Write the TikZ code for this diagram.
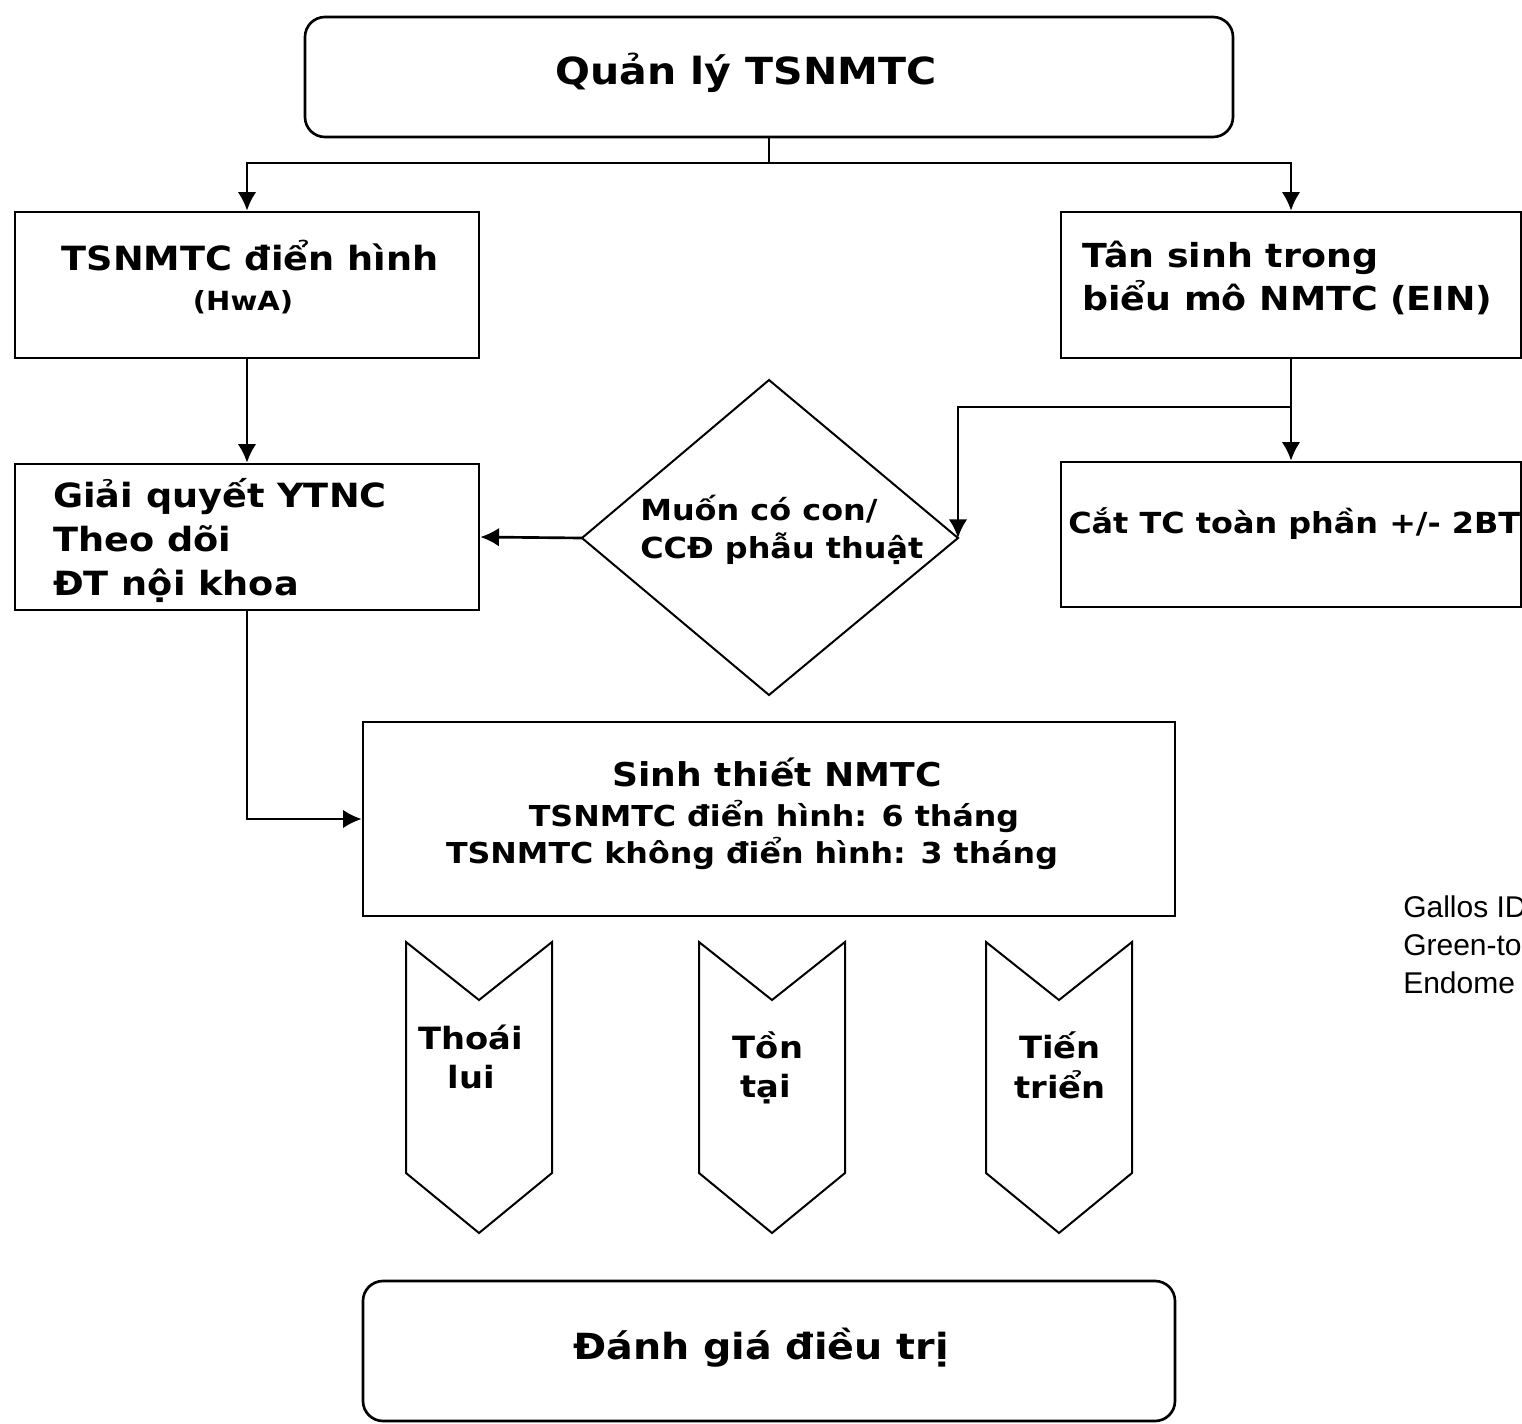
\documentclass[tikz,border=0pt]{standalone}
\usepackage{fontspec}
\setmainfont{Liberation Sans}
\newfontfamily\vf[FakeStretch=1.1]{DejaVu Sans}
\usetikzlibrary{arrows.meta,calc}
\newcommand\bt[2]{\vf\bfseries\fontsize{#1}{#2}\selectfont}
\newcommand\chevshape[1]{\draw[chevline] (#1-73,942) -- (#1,1000) -- (#1+73,942) -- (#1+73,1173) -- (#1,1233) -- (#1-73,1173) -- cycle;}
\begin{document}
\begin{tikzpicture}[x=0.75pt,y=-0.75pt,
  boxline/.style={draw=black,line width=2pt,inner sep=0pt},
  conn/.style={line width=2pt,-{Latex[length=14pt,width=14pt]}},
  plain/.style={line width=2pt},
  lbl/.style={inner sep=0pt,anchor=base},
  lblw/.style={inner sep=0pt,anchor=base west},
  chevline/.style={line width=1.5pt,line join=miter}]
\useasboundingbox (0,0) rectangle (1522,1424);
\fill[white] (0,0) rectangle (1522,1424);

% boxes
\node[boxline,rounded corners=15pt,minimum width=696pt,minimum height=90pt] (top) at (769,77) {};
\node[boxline,minimum width=348pt,minimum height=109.5pt] (L1) at (247,285) {};
\node[boxline,minimum width=348pt,minimum height=109.5pt] (L2) at (247,537) {};
\node[boxline,minimum width=345pt,minimum height=109.5pt] (R1) at (1291,285) {};
\node[boxline,minimum width=345pt,minimum height=108.75pt] (R2) at (1291,534.5) {};
\node[boxline,minimum width=609pt,minimum height=145.5pt] (S) at (769,819) {};
\node[boxline,rounded corners=15pt,minimum width=609pt,minimum height=105pt] (B) at (769,1351) {};

% diamond
\coordinate (Dn) at (769,380);
\coordinate (De) at (958,538);
\coordinate (Ds) at (769,695);
\coordinate (Dw) at (582,538);
\draw[line width=1.5pt] (Dn) -- (De) -- (Ds) -- (Dw) -- cycle;

% chevrons
\chevshape{479}
\chevshape{772}
\chevshape{1059}

% connectors
\coordinate (split) at (769,163);
\coordinate (rb) at (1291,407);
\draw[plain] (top.south) -- (split);
\draw[conn] (split) -| (L1.north);
\draw[conn] (split) -| (R1.north);
\draw[conn] (L1.south) -- (L2.north);
\draw[conn] (L2.south) |- (S.west);
\draw[conn] (R1.south) -- (R2.north);
\draw[conn] (rb) -| (De);
\draw[conn] (Dw) -- (L2.east);

% texts
\node[lbl,font={\bt{28}{34}}] (tTop) at (746,84) {Quản lý TSNMTC};
\node[lbl,font={\bt{25}{30}}] (tL1a) at (250,270) {TSNMTC điển hình};
\node[lbl,font={\bt{19.8}{24}}] (tL1b) at (243,310) {(HwA)};
\node[lblw,font={\bt{25}{30}}] (tL2a) at (53,507) {Giải quyết YTNC};
\node[lblw,font={\bt{25}{30}}] (tL2b) at (53,551) {Theo dõi};
\node[lblw,font={\bt{25}{30}}] (tL2c) at (53,595) {ĐT nội khoa};
\node[lblw,font={\bt{24.8}{30}}] (tR1a) at (1082,267) {Tân sinh trong};
\node[lblw,font={\bt{24.8}{30}}] (tR1b) at (1082,310) {biểu mô NMTC (EIN)};
\node[lblw,font={\bt{21.75}{26}}] (tR2) at (1068,533) {Cắt TC toàn phần +/- 2BT};
\node[lblw,font={\bt{21.75}{26}}] (tDa) at (640,520) {Muốn có con/};
\node[lblw,font={\bt{21.75}{26}}] (tDb) at (640,558) {CCĐ phẫu thuật};
\node[lbl,font={\bt{24.6}{30}}] (tSa) at (777,786) {Sinh thiết NMTC};
\node[lbl,font={\bt{21.6}{26}}] (tSb) at (774,826) {TSNMTC điển hình: 6 tháng};
\node[lbl,font={\bt{21.6}{26}}] (tSc) at (752,863) {TSNMTC không điển hình: 3 tháng};
\node[lbl,font={\bt{23}{28}}] (tC1a) at (471,1049) {Thoái};
\node[lbl,font={\bt{23}{28}}] (tC1b) at (471,1088) {lui};
\node[lbl,font={\bt{23}{28}}] (tC2a) at (768,1058) {Tồn};
\node[lbl,font={\bt{23}{28}}] (tC2b) at (766,1097) {tại};
\node[lbl,font={\bt{23}{28}}] (tC3a) at (1060,1058) {Tiến};
\node[lbl,font={\bt{23}{28}}] (tC3b) at (1060,1098) {triển};
\node[lbl,font={\bt{27}{32}}] (tB) at (761,1359) {Đánh giá điều trị};

% reference (cut at the page edge, as in the original)
\begin{scope}
\clip (0,0) rectangle (1522,1424);
\node[lblw,font={\fontsize{22.5}{27}\selectfont}] (ref1) at (1403,917) {Gallos ID};
\node[lblw,font={\fontsize{22.5}{27}\selectfont}] (ref2) at (1403,955) {Green-to};
\node[lblw,font={\fontsize{22.5}{27}\selectfont}] (ref3) at (1403,993) {Endome};
\end{scope}
\end{tikzpicture}
\end{document}
